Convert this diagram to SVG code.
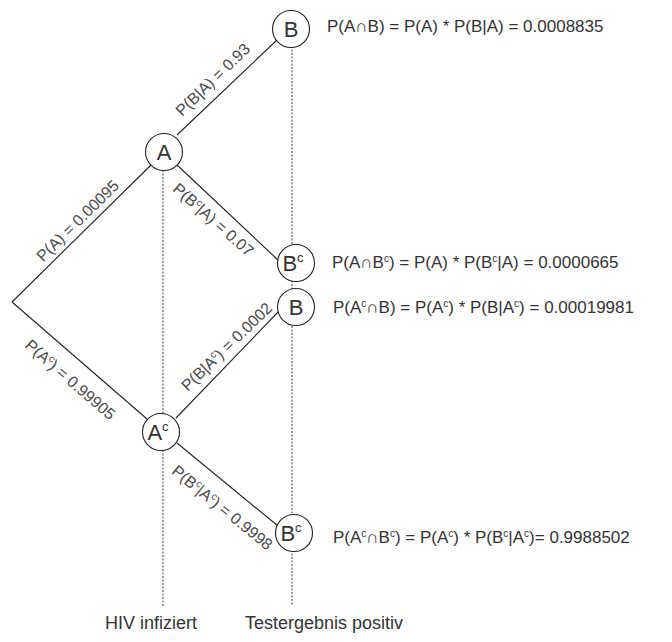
<svg xmlns="http://www.w3.org/2000/svg" width="672" height="642" viewBox="0 0 672 642">
<style>
text{font-family:"Liberation Sans",Arial,sans-serif;fill:#333}
.edge{stroke:#222;stroke-width:1.1;fill:none}
.guide{stroke:#888;stroke-width:1.6;stroke-dasharray:2 1.5;fill:none}
.node circle{fill:#fff;stroke:#222;stroke-width:1.1}
.node text{font-size:22px;text-anchor:middle}
.lbl{font-size:16px;text-anchor:middle;fill:#4a4a4a}
.f{font-size:17px}
.ax{font-size:18px}
</style>
<rect width="672" height="642" fill="#fff"/>
<g id="guides">
<line class="guide" x1="163" y1="170" x2="163" y2="606"/>
<line class="guide" x1="292" y1="46" x2="292" y2="606"/>
</g>
<g id="connectors">
<line class="edge" x1="12" y1="302" x2="151" y2="165"/>
<line class="edge" x1="12" y1="302" x2="147" y2="419"/>
<line class="edge" x1="177" y1="135" x2="277" y2="40"/>
<line class="edge" x1="177" y1="165" x2="279" y2="261"/>
<line class="edge" x1="176" y1="418" x2="280" y2="310"/>
<line class="edge" x1="177" y1="443" x2="278" y2="526"/>
</g>
<g id="edge-labels">
<text class="lbl" transform="translate(78,221) rotate(-44.5)" y="5">P(A) = 0.00095</text>
<text class="lbl" transform="translate(70,380) rotate(41)" y="5">P(A<tspan font-size="10" dy="-6">c</tspan><tspan dy="6">) = 0.99905</tspan></text>
<text class="lbl" transform="translate(213,80) rotate(-44)" y="5">P(B|A) = 0.93</text>
<text class="lbl" transform="translate(213,220) rotate(41.5)" y="5">P(B<tspan font-size="10" dy="-6">c</tspan><tspan dy="6">|A) = 0.07</tspan></text>
<text class="lbl" transform="translate(227,347) rotate(-44)" y="5">P(B|A<tspan font-size="10" dy="-6">c</tspan><tspan dy="6">) = 0.0002</tspan></text>
<text class="lbl" transform="translate(222,508) rotate(39)" y="5">P(B<tspan font-size="10" dy="-6">c</tspan><tspan dy="6">|A</tspan><tspan font-size="10" dy="-6">c</tspan><tspan dy="6">) = 0.9998</tspan></text>
</g>
<g id="node-A" class="node"><circle cx="164" cy="152" r="18.5"/><text x="164" y="160">A</text></g>
<g id="node-Ac" class="node"><circle cx="161" cy="432" r="18.5"/><text x="158" y="440">A<tspan font-size="13" dy="-9">c</tspan></text></g>
<g id="node-B1" class="node"><circle cx="291" cy="29" r="18.5"/><text x="291" y="37">B</text></g>
<g id="node-Bc1" class="node"><circle cx="296" cy="263" r="18.5"/><text x="293" y="271">B<tspan font-size="13" dy="-9">c</tspan></text></g>
<g id="node-B2" class="node"><circle cx="296" cy="307" r="18.5"/><text x="296" y="315">B</text></g>
<g id="node-Bc2" class="node"><circle cx="294" cy="533" r="18.5"/><text x="291" y="541">B<tspan font-size="13" dy="-9">c</tspan></text></g>
<g id="results">
<text class="f" x="327" y="32">P(A∩B) = P(A) * P(B|A) = 0.0008835</text>
<text class="f" x="332" y="268">P(A∩B<tspan font-size="10" dy="-6">c</tspan><tspan dy="6">) = P(A) * P(B</tspan><tspan font-size="10" dy="-6">c</tspan><tspan dy="6">|A) = 0.0000665</tspan></text>
<text class="f" x="333" y="313">P(A<tspan font-size="10" dy="-6">c</tspan><tspan dy="6">∩B) = P(A</tspan><tspan font-size="10" dy="-6">c</tspan><tspan dy="6">) * P(B|A</tspan><tspan font-size="10" dy="-6">c</tspan><tspan dy="6">) = 0.00019981</tspan></text>
<text class="f" x="333" y="543">P(A<tspan font-size="10" dy="-6">c</tspan><tspan dy="6">∩B</tspan><tspan font-size="10" dy="-6">c</tspan><tspan dy="6">) = P(A</tspan><tspan font-size="10" dy="-6">c</tspan><tspan dy="6">) * P(B</tspan><tspan font-size="10" dy="-6">c</tspan><tspan dy="6">|A</tspan><tspan font-size="10" dy="-6">c</tspan><tspan dy="6">)= 0.9988502</tspan></text>
</g>
<g id="axis-labels">
<text class="ax" x="105" y="629">HIV infiziert</text>
<text class="ax" x="245" y="629">Testergebnis positiv</text>
</g>
</svg>
